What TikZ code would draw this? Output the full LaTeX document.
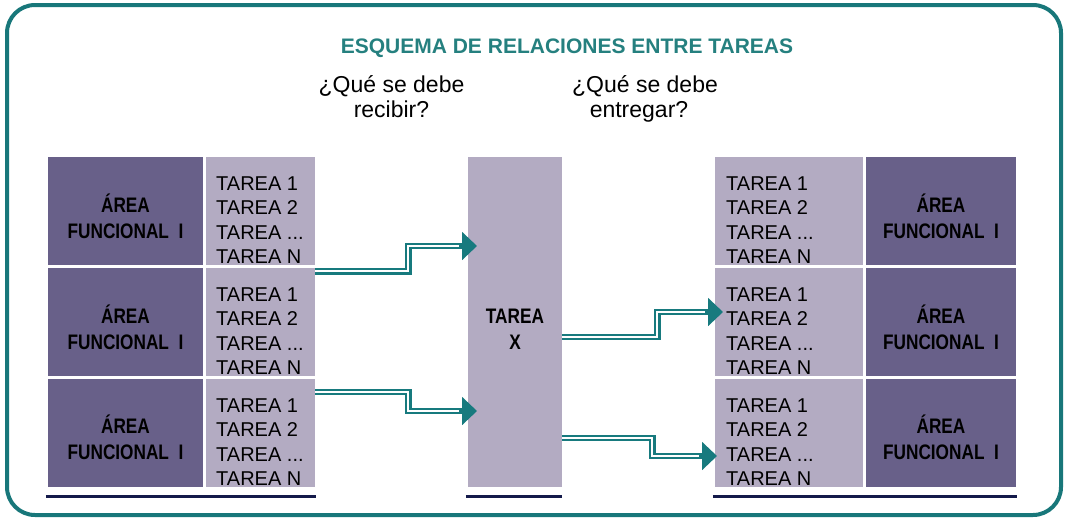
\documentclass[tikz,border=0pt]{standalone}
\usepackage{fontspec}
\setmainfont{Liberation Sans}
\newfontfamily\narrowfont{Liberation Sans}[FakeStretch=0.82]
\usetikzlibrary{arrows.meta}
\definecolor{frameteal}{HTML}{18777A}
\definecolor{titleteal}{HTML}{25807F}
\definecolor{arrowteal}{HTML}{177A7E}
\definecolor{darkcell}{HTML}{686089}
\definecolor{lightcell}{HTML}{B3ABC2}
\definecolor{navyline}{HTML}{141A4A}

\newcommand\tareacol[3]{%
  \node[tarea] (#3a) at (#1,#2) {TAREA 1};
  \node[tarea] (#3b) at (#1,{#2+24.5}) {TAREA 2};
  \node[tarea] (#3c) at (#1,{#2+49}) {TAREA ...};
  \node[tarea] (#3d) at (#1,{#2+73.5}) {TAREA N};}
\newcommand\arealbl[3]{%
  \node[areatxt] (#3a) at (#1,#2) {ÁREA};
  \node[areatxt] (#3b) at (#1,{#2+26}) {FUNCIONAL\ \ I};}

\begin{document}
\begin{tikzpicture}[x=1pt,y=-1pt,
  darkbox/.style={fill=darkcell, draw=none, inner sep=0, minimum height=108pt},
  lightbox/.style={fill=lightcell, draw=none, inner sep=0, minimum height=108pt},
  tarea/.style={anchor=base west, inner sep=0, text=black, font=\fontsize{20}{24}\selectfont},
  areatxt/.style={anchor=base, inner sep=0, text=black, font=\narrowfont\bfseries\fontsize{21}{26}\selectfont},
  qtxt/.style={anchor=base, inner sep=0, text=black, font=\fontsize{23}{25}\selectfont},
  dbl/.style={draw=arrowteal, line width=2.2pt, double=white, double distance=2.2pt},
  tipline/.style={draw=arrowteal, fill=arrowteal, line width=2pt, -{Triangle[length=15pt,width=28pt]}},
  baseline/.style={draw=navyline, line width=3pt}]
\useasboundingbox (0,0) rectangle (1066,520);

% frame
\draw[frameteal, line width=4pt, rounded corners=28pt] (7,5) rectangle (1061,515);

% title and questions
\node[anchor=base, inner sep=0, text=titleteal, font=\bfseries\fontsize{21}{24}\selectfont] (title) at (567,53) {ESQUEMA DE RELACIONES ENTRE TAREAS};
\node[qtxt] (q1a) at (391.5,92) {¿Qué se debe};
\node[qtxt] (q1b) at (391.5,117) {recibir?};
\node[qtxt] (q2a) at (645,92) {¿Qué se debe};
\node[qtxt] (q2b) at (639,117) {entregar?};

% tables
\foreach \r/\yc in {1/211,2/322,3/433} {
  \node[darkbox, minimum width=155pt] (L\r a) at (125.5,\yc) {};
  \node[lightbox, minimum width=109pt] (L\r t) at (260.5,\yc) {};
  \node[darkbox, minimum width=150pt] (R\r a) at (941,\yc) {};
  \node[lightbox, minimum width=148pt] (R\r t) at (789,\yc) {};
}
% central task
\node[lightbox, minimum width=94pt, minimum height=330pt] (X) at (515,322) {};
\node[areatxt] (xa) at (515,323.5) {TAREA};
\node[areatxt] (xb) at (515,349.5) {X};

% texts
\tareacol{216}{190}{lta}
\tareacol{216}{301}{ltb}
\tareacol{216}{412}{ltc}
\tareacol{726}{190}{rta}
\tareacol{726}{301}{rtb}
\tareacol{726}{412}{rtc}
\arealbl{125.5}{212.5}{laa}
\arealbl{125.5}{323.5}{lab}
\arealbl{125.5}{433.5}{lac}
\arealbl{941}{212.5}{raa}
\arealbl{941}{323.5}{rab}
\arealbl{941}{433.5}{rac}

% bottom lines
\draw[baseline] ([xshift=-2pt,yshift=-9pt]L3a.south west) -- ([xshift=1pt,yshift=-9pt]L3t.south east);
\draw[baseline] ([xshift=-2pt,yshift=-9pt]X.south west) -- ([yshift=-9pt]X.south east);
\draw[baseline] ([xshift=-2pt,yshift=-9pt]R3t.south west) -- ([xshift=1pt,yshift=-9pt]R3a.south east);

% arrow coordinates
\coordinate (a1) at (463,246); \coordinate (t1) at (477,246);
\coordinate (a2) at (463,411); \coordinate (t2) at (477,411);
\coordinate (a3) at (709,312); \coordinate (t3) at (723,312);
\coordinate (a4) at (703,456); \coordinate (t4) at (717,456);

% connectors
\draw[dbl] ([yshift=-6pt]L1t.south east) -- ++(93,0) |- (a1);
\draw[tipline] ([xshift=-4pt]a1) -- (t1);
\draw[dbl] ([yshift=-13pt]L3t.north east) -- ++(93,0) |- (a2);
\draw[tipline] ([xshift=-4pt]a2) -- (t2);
\draw[dbl] ([yshift=-15pt]X.east) -- ++(95,0) |- (a3);
\draw[tipline] ([xshift=-4pt]a3) -- (t3);
\draw[dbl] ([yshift=-116pt]X.east) -- ++(90,0) |- (a4);
\draw[tipline] ([xshift=-4pt]a4) -- (t4);
\end{tikzpicture}
\end{document}
